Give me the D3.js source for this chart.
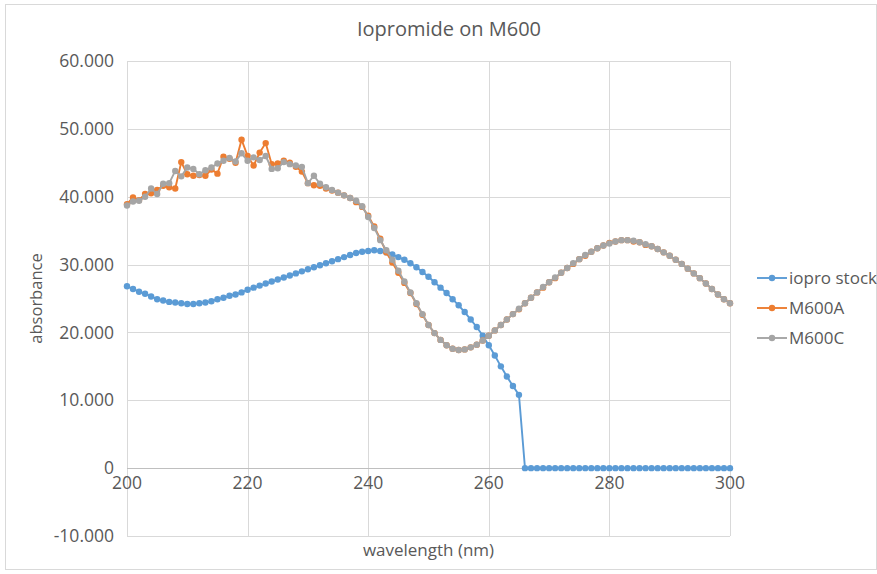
<!DOCTYPE html>
<html>
<head>
<meta charset="utf-8">
<script src="https://cdn.jsdelivr.net/npm/d3@7/dist/d3.min.js"></script>
<style>
  body { margin: 0; background: #fff; }
  text { font-family: "Open Sans", sans-serif; fill: #595959; }
</style>
</head>
<body>
<div id="chart"></div>
<script>
// wavelength categories (nm), one reading per nm
const wavelengths = d3.range(200, 301);

const ioproStock = [
  26.8, 26.4, 26.0, 25.7, 25.3, 24.9, 24.7, 24.5, 24.4, 24.3,
  24.2, 24.2, 24.3, 24.4, 24.6, 24.9, 25.1, 25.4, 25.6, 25.9,
  26.3, 26.6, 26.9, 27.2, 27.5, 27.8, 28.1, 28.4, 28.7, 29.0,
  29.3, 29.6, 29.9, 30.2, 30.5, 30.8, 31.1, 31.4, 31.7, 31.9,
  32.0, 32.1, 32.0, 31.8, 31.5, 31.1, 30.7, 30.2, 29.6, 28.9,
  28.2, 27.4, 26.6, 25.8, 24.9, 24.0, 23.0, 21.9, 20.8, 19.5,
  18.1, 16.6, 15.0, 13.5, 12.1, 10.8, 0, 0, 0, 0,
  0, 0, 0, 0, 0, 0, 0, 0, 0, 0,
  0, 0, 0, 0, 0, 0, 0, 0, 0, 0,
  0, 0, 0, 0, 0, 0, 0, 0, 0, 0,
  0
];

const m600A = [
  38.9, 39.9, 39.5, 40.4, 40.5, 41.0, 41.6, 41.4, 41.2, 45.1,
  43.3, 43.1, 43.2, 43.1, 44.0, 43.4, 45.9, 45.6, 45.0, 48.4,
  46.0, 44.6, 46.5, 47.9, 44.8, 44.9, 45.3, 45.0, 44.4, 43.7,
  42.0, 41.7, 41.6, 41.2, 40.9, 40.6, 40.2, 39.8, 39.2, 38.5,
  37.2, 35.6, 33.8, 31.8, 30.3, 28.8, 27.3, 25.8, 24.2, 22.6,
  21.1, 19.9, 18.9, 18.1, 17.6, 17.4, 17.5, 17.8, 18.2, 18.8,
  19.5, 20.3, 21.1, 21.9, 22.7, 23.4, 24.3, 25.1, 25.9, 26.6,
  27.4, 28.0, 28.8, 29.5, 30.1, 30.8, 31.3, 31.9, 32.4, 32.8,
  33.2, 33.4, 33.6, 33.6, 33.4, 33.3, 32.9, 32.7, 32.3, 31.8,
  31.3, 30.7, 30.1, 29.4, 28.7, 28.0, 27.2, 26.4, 25.6, 24.9,
  24.3
];

const m600C = [
  38.7, 39.3, 39.4, 40.0, 41.2, 40.4, 41.9, 42.0, 43.8, 43.0,
  44.3, 44.1, 43.3, 43.9, 44.3, 44.9, 45.3, 45.7, 45.2, 46.4,
  45.3, 45.8, 45.4, 46.0, 44.1, 44.2, 45.1, 44.8, 44.6, 44.4,
  42.0, 43.1, 41.9, 41.4, 41.0, 40.6, 40.2, 39.8, 39.4, 38.6,
  37.0, 35.4, 33.6, 32.1, 30.7, 29.1, 27.5, 25.9, 24.3, 22.7,
  21.1, 19.9, 18.9, 18.1, 17.6, 17.4, 17.5, 17.8, 18.2, 18.8,
  19.5, 20.3, 21.1, 21.9, 22.7, 23.5, 24.3, 25.1, 25.9, 26.7,
  27.4, 28.1, 28.8, 29.5, 30.2, 30.8, 31.4, 31.9, 32.4, 32.8,
  33.1, 33.4, 33.6, 33.6, 33.5, 33.3, 33.0, 32.7, 32.3, 31.8,
  31.3, 30.7, 30.1, 29.4, 28.7, 28.0, 27.2, 26.4, 25.6, 24.9,
  24.3
];

const seriesNames = ["iopro stock", "M600A", "M600C"];
const seriesColors = ["#5B9BD5", "#ED7D31", "#A5A5A5"];
const xTicks = [200, 220, 240, 260, 280, 300];
const yTicks = [-10, 0, 10, 20, 30, 40, 50, 60];

const width = 877, height = 574;
const plot = { left: 127, right: 730, top: 61, bottom: 536 };

const svg = d3.select("#chart").append("svg")
  .attr("width", width)
  .attr("height", height);

// outer chart frame
svg.append("rect")
  .attr("x", 5.5).attr("y", 4.5)
  .attr("width", 871).attr("height", 565)
  .attr("fill", "none")
  .attr("stroke", "#d9d9d9");

const x = d3.scaleLinear().domain([200, 300]).range([plot.left, plot.right]);
const y = d3.scaleLinear().domain([-10, 60]).range([plot.bottom, plot.top]);

// gridlines
const grid = svg.append("g");
grid.selectAll("line.h").data(yTicks).enter().append("line")
  .attr("x1", plot.left).attr("x2", plot.right)
  .attr("y1", d => Math.round(y(d)) + 0.5).attr("y2", d => Math.round(y(d)) + 0.5)
  .attr("stroke", "#d9d9d9");
grid.selectAll("line.v").data(xTicks).enter().append("line")
  .attr("y1", plot.top).attr("y2", plot.bottom)
  .attr("x1", d => Math.round(x(d)) + 0.5).attr("x2", d => Math.round(x(d)) + 0.5)
  .attr("stroke", "#d9d9d9");

// axis along zero
svg.append("line")
  .attr("x1", plot.left).attr("x2", plot.right)
  .attr("y1", Math.round(y(0)) + 0.5).attr("y2", Math.round(y(0)) + 0.5)
  .attr("stroke", "#bfbfbf");

// tick labels (hyphen minus like the original)
const yFmt = d => d === 0 ? "0" : d3.format(".3f")(d).replace("\u2212", "-");
svg.append("g").selectAll("text").data(yTicks).enter().append("text")
  .attr("x", 114)
  .attr("y", d => y(d))
  .attr("dy", "0.35em")
  .attr("text-anchor", "end")
  .style("font-size", "17.5px")
  .text(yFmt);

svg.append("g").selectAll("text").data(xTicks).enter().append("text")
  .attr("x", d => x(d))
  .attr("y", y(0) + 8)
  .attr("dy", "0.71em")
  .attr("text-anchor", "middle")
  .style("font-size", "17.5px")
  .text(d => d);

// titles
svg.append("text")
  .attr("x", 449).attr("y", 36)
  .attr("text-anchor", "middle")
  .style("font-size", "20px")
  .text("Iopromide on M600");

svg.append("text")
  .attr("x", (plot.left + plot.right) / 2).attr("y", 556)
  .attr("text-anchor", "middle")
  .style("font-size", "17px")
  .text("wavelength (nm)");

svg.append("text")
  .attr("transform", `translate(42,${(plot.top + plot.bottom) / 2}) rotate(-90)`)
  .attr("text-anchor", "middle")
  .style("font-size", "16.5px")
  .text("absorbance");

// series
const allSeries = [ioproStock, m600A, m600C];
const line = d3.line()
  .x((d, i) => x(wavelengths[i]))
  .y(d => y(d));

allSeries.forEach((vals, s) => {
  const g = svg.append("g");
  g.append("path")
    .datum(vals)
    .attr("fill", "none")
    .attr("stroke", seriesColors[s])
    .attr("stroke-width", 1.9)
    .attr("d", line);
  g.selectAll("circle").data(vals).enter().append("circle")
    .attr("cx", (d, i) => x(wavelengths[i]))
    .attr("cy", d => y(d))
    .attr("r", 3.2)
    .attr("fill", seriesColors[s]);
});

// legend
const legend = svg.append("g");
seriesNames.forEach((name, i) => {
  const ly = 278 + i * 30;
  legend.append("line")
    .attr("x1", 757).attr("x2", 787)
    .attr("y1", ly).attr("y2", ly)
    .attr("stroke", seriesColors[i])
    .attr("stroke-width", 1.9);
  legend.append("circle")
    .attr("cx", 772).attr("cy", ly).attr("r", 3.2)
    .attr("fill", seriesColors[i]);
  legend.append("text")
    .attr("x", 789).attr("y", ly)
    .attr("dy", "0.35em")
    .style("font-size", "17px")
    .text(name);
});
</script>
</body>
</html>
